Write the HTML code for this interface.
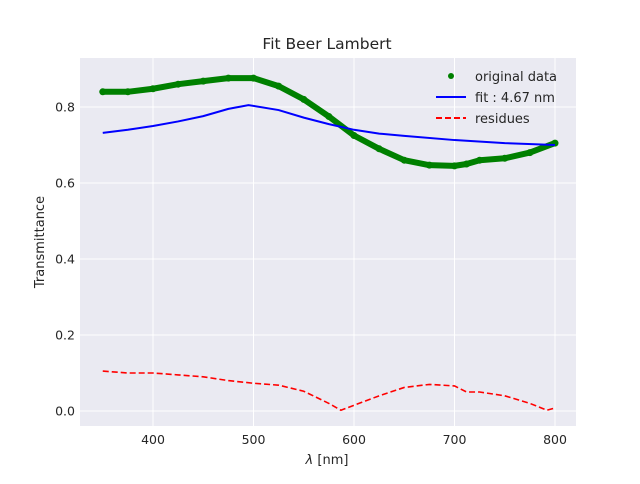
<!DOCTYPE html>
<html><head><meta charset="utf-8"><style>
body{margin:0;background:#fff;font-family:"DejaVu Sans","Liberation Sans",sans-serif}
</style></head><body>
<svg id="c" width="640" height="480" xmlns="http://www.w3.org/2000/svg">
<rect x="80" y="58" width="496" height="368" fill="#eaeaf2"/>
<g id="grid"></g>
<g id="series"></g>
<text x="327" y="49" font-size="15.5" text-anchor="middle" fill="#262626">Fit Beer Lambert</text>
<text x="327" y="464" font-size="13" text-anchor="middle" fill="#262626"><tspan font-style="italic">λ</tspan> [nm]</text>
<text transform="translate(44,242) rotate(-90)" font-size="13" text-anchor="middle" fill="#262626">Transmittance</text>
<g font-size="13" fill="#262626">
<circle cx="451" cy="76" r="3" fill="green"/>
<text x="475" y="81">original data</text>
<line x1="436" y1="97" x2="466" y2="97" stroke="blue" stroke-width="2"/>
<text x="475" y="102">fit : 4.67 nm</text>
<line x1="436" y1="118" x2="466" y2="118" stroke="red" stroke-width="2" stroke-dasharray="6,3"/>
<text x="475" y="123">residues</text>
</g>
</svg>
<script>
const dataX=[350,375,400,425,450,475,500,525,550,575,600,625,650,675,700,712,725,750,775,800];
const dataY=[0.84,0.84,0.848,0.86,0.868,0.876,0.876,0.855,0.82,0.775,0.725,0.69,0.66,0.647,0.645,0.65,0.66,0.665,0.68,0.705];
const fitX=[350,375,400,425,450,475,495,525,550,575,600,625,650,700,750,800];
const fitY=[0.732,0.74,0.75,0.762,0.776,0.795,0.805,0.792,0.772,0.755,0.74,0.73,0.724,0.713,0.705,0.7];
const resX=[350,375,400,425,450,475,500,525,550,575,587,600,625,650,675,700,712,725,750,775,792,800];
const resY=[0.105,0.1,0.1,0.095,0.09,0.08,0.073,0.068,0.052,0.02,0.002,0.015,0.04,0.062,0.07,0.066,0.05,0.05,0.04,0.02,0.002,0.008];
const xTicks=[400,500,600,700,800];
const yTicks=[0.0,0.2,0.4,0.6,0.8];
const xs=v=>153+(v-400)*1.005;
const ys=v=>411-v*380;
const NS='http://www.w3.org/2000/svg';
const svg=document.getElementById('c'),grid=document.getElementById('grid'),ser=document.getElementById('series');
function mk(t,a,p){const e=document.createElementNS(NS,t);for(const k in a)e.setAttribute(k,a[k]);p.appendChild(e);return e;}
xTicks.forEach(v=>{
 const l=mk('line',{x1:xs(v),x2:xs(v),y1:58,y2:426,stroke:'#fff','stroke-width':1},grid);
 
 
 const t=mk('text',{x:xs(v),y:444,'font-size':12.5,'text-anchor':'middle',fill:'#262626'},svg);
 t.textContent=v;
 
 
});
yTicks.forEach(v=>{
 const l=mk('line',{x1:80,x2:576,y1:ys(v),y2:ys(v),stroke:'#fff','stroke-width':1},grid);
 
 
 const t=mk('text',{x:75,y:ys(v)+4.5,'font-size':12.5,'text-anchor':'end',fill:'#262626'},svg);
 t.textContent=v.toFixed(1);
 
 
});
const pts=(X,Y)=>X.map((x,i)=>xs(x)+','+ys(Y[i])).join(' ');
const g=mk('polyline',{points:pts(dataX,dataY),fill:'none',stroke:'green','stroke-width':6,'stroke-linejoin':'round','stroke-linecap':'round'},ser);


dataX.forEach((x,i)=>{const c=mk('circle',{cx:xs(x),cy:ys(dataY[i]),r:3.5,fill:'green'},ser);
 
 });
const f=mk('polyline',{points:pts(fitX,fitY),fill:'none',stroke:'blue','stroke-width':2},ser);


const r=mk('polyline',{points:pts(resX,resY),fill:'none',stroke:'red','stroke-width':1.6,'stroke-dasharray':'6,3'},ser);


</script>
</body></html>
